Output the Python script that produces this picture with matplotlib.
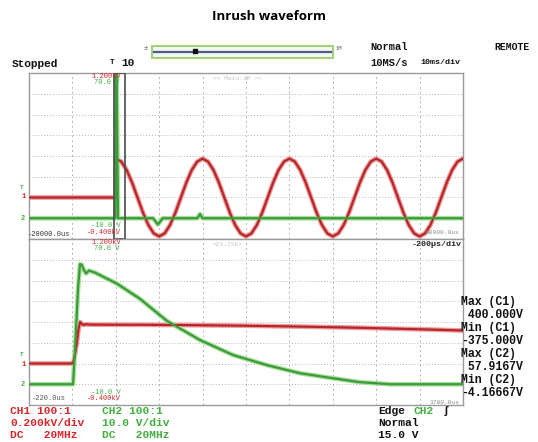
import numpy as np
import matplotlib
matplotlib.use("Agg")
import matplotlib.pyplot as plt
from matplotlib.patches import Rectangle
from matplotlib.lines import Line2D

W, H = 538, 442

# --- upper window: 10 ms/div, -20 ms .. 80 ms ---
# CH1 (mains voltage, V) read every 1.25 ms after switch-on
ch1_main_t_pre = [-20.0, -0.05]
ch1_main_v_pre = [0, 0]
ch1_main_v = [375, 346, 265, 144, 0, -144, -265, -346, -375, -346, -265, -144, 0, 144, 265, 346,
              375, 346, 265, 144, 0, -144, -265, -346, -375, -346, -265, -144, 0, 144, 265, 346,
              375, 346, 265, 144, 0, -144, -265, -346, -375, -346, -265, -144, 0, 144, 265, 346,
              375, 346, 265, 144, 0, -144, -265, -346, -375, -346, -265, -144, 0, 144, 265, 346,
              375]
ch1_main_step = 1.25
# CH2 (inrush, V)
ch2_main_t = [-20.0, -0.1, 0.0, 0.2, 0.5, 8.6, 9.7, 10.8, 18.8, 19.4, 20.0, 80.0]
ch2_main_v = [0, 0, 70, 70, 0, 0, -3, 0, 0, 2, 0, 0]

# --- zoom window: 200 us/div, -220 us .. 1780 us ---
ch1_zoom_t = [-220, -18, -10, 0, 8, 15, 22, 30, 45, 60, 150, 300, 450, 600, 750, 900,
              1050, 1200, 1350, 1500, 1650, 1780]
ch1_zoom_v = [0, 0, 60, 190, 330, 400, 385, 372, 378, 375, 374, 373, 371, 368, 365, 360,
              355, 349, 342, 334, 326, 318]
ch2_zoom_t = [-220, -17, -8, 6, 15, 24, 33, 43, 56, 84, 185, 291, 416, 568, 720, 877,
              1029, 1181, 1305, 1444, 1780]
ch2_zoom_v = [0, 0, 17, 46, 57.9, 57.5, 55, 53.4, 54.8, 53.8, 48.5, 41.2, 30.5, 21.3, 14.1, 9.2,
              5.3, 2.9, 1.0, 0, 0]

measure_lines = ["Max (C1)", " 400.000V", "Min (C1)", "-375.000V",
                 "Max (C2)", " 57.9167V", "Min (C2)", "-4.16667V"]

RED, RED_H = "#b3262b", "#f29a9a"
GRN, GRN_H = "#3c9a3c", "#a8e09a"
TXT_R, TXT_G = "#d8262a", "#3fae3f"
MONO = "Liberation Mono"


def fx(x):
    return x / W


def fy(y):
    return 1 - y / H


def ftext(x, y, s, **kw):
    kw.setdefault("va", "center")
    kw.setdefault("family", MONO)
    fig.text(fx(x), fy(y), s, **kw)


def scope_axes(top_px):
    ax = fig.add_axes([fx(29), fy(top_px + 166), 434 / W, 166 / H])
    ax.set_xlim(0, 10)
    ax.set_ylim(0, 8)
    ax.set_xticks([])
    ax.set_yticks([])
    for sp in ax.spines.values():
        sp.set_color("#9a9a9a")
        sp.set_linewidth(1.0)
    for i in range(1, 10):
        ax.axvline(i, color="#b5b5b5", lw=0.7, ls=(0, (2, 3)), zorder=0)
    for j in range(1, 8):
        ax.axhline(j, color="#b5b5b5", lw=0.7, ls=(0, (1, 2)), zorder=0)
    return ax


def trace(ax, x, y, c, halo):
    ax.plot(x, y, color=halo, lw=3.4, solid_capstyle="round", zorder=2)
    ax.plot(x, y, color=c, lw=1.6, zorder=3)


fig = plt.figure(figsize=(W / 100, H / 100), dpi=100)

fig.text(0.5, fy(16), "Inrush waveform", ha="center", va="center",
         fontsize=9.5, fontweight="bold", family="Open Sans")

# upper window
ax1 = scope_axes(73)
t1 = list(ch1_main_t_pre) + [k * ch1_main_step for k in range(len(ch1_main_v))]
v1 = list(ch1_main_v_pre) + list(ch1_main_v)
x1 = [(t + 20) / 10 for t in t1]
trace(ax1, x1, [2 + v / 200 for v in v1], RED, RED_H)
x2 = [(t + 20) / 10 for t in ch2_main_t]
trace(ax1, x2, [1 + v / 10 for v in ch2_main_v], GRN, GRN_H)
ax1.add_patch(Rectangle((1.96, 0.02), 0.25, 7.96, fill=False, ec="#4d4d4d", lw=1.2, zorder=4))

# zoom window
ax2 = scope_axes(239)
xz1 = [(t + 220) / 200 for t in ch1_zoom_t]
trace(ax2, xz1, [2 + v / 200 for v in ch1_zoom_v], RED, RED_H)
xz2 = [(t + 220) / 200 for t in ch2_zoom_t]
trace(ax2, xz2, [1 + v / 10 for v in ch2_zoom_v], GRN, GRN_H)

# scale labels inside the windows
for top in (73, 239):
    ftext(121, top + 3, "1.200kV", color=TXT_R, fontsize=5, ha="right")
    ftext(119, top + 9, "70.0 V", color=TXT_G, fontsize=5, ha="right")
    ftext(121, top + 153, "-10.0 V", color=TXT_G, fontsize=5, ha="right")
    ftext(121, top + 159, "-0.400kV", color=TXT_R, fontsize=5, ha="right")

ftext(213, 78, "<< Main:1M >>", color="#c4c4c4", fontsize=4.5)
ftext(213, 245, "<Z1:25k>", color="#c4c4c4", fontsize=4.5)
ftext(28, 235, "-20000.0us", color="#333333", fontsize=5)
ftext(459, 233, "80000.0us", color="#8a8a8a", fontsize=4.5, ha="right")
ftext(462, 244, "-200\u03bcs/div", color="#222222", fontsize=6, ha="right", fontweight="bold")
ftext(32, 399, "-220.0us", color="#555555", fontsize=5)
ftext(459, 402, "1780.0us", color="#8a8a8a", fontsize=4.5, ha="right")

# channel / trigger markers at left
for zr, zg, trg in ((197, 219, 187), (365, 385, 354)):
    ftext(21, zr, "1", color=TXT_R, fontsize=5, fontweight="bold")
    ftext(21, zg, "2", color=TXT_G, fontsize=5, fontweight="bold")
    ftext(20, trg, "T", color=TXT_G, fontsize=4.5, fontweight="bold")

# status bar
ftext(12, 64, "Stopped", color="#111111", fontsize=8, fontweight="bold")
ftext(110, 63, "T", color="#111111", fontsize=5.5, fontweight="bold")
ftext(121, 63, "10", color="#111111", fontsize=8, fontweight="bold")
fig.patches.append(Rectangle((fx(152), fy(58)), 181 / W, 12 / H, transform=fig.transFigure,
                             fill=True, fc="#f3f8ee", ec="#a6d07c", lw=1.5))
fig.lines.append(Line2D([fx(154), fx(331)], [fy(52), fy(52)], transform=fig.transFigure,
                        color="#4d5b88", lw=1.6))
fig.lines.append(Line2D([fx(195)], [fy(51)], transform=fig.transFigure, marker="s",
                        ms=2.5, color="#111111"))
ftext(144, 49, "\u00b1", color="#555555", fontsize=5)
ftext(336, 49, "1M", color="#555555", fontsize=4)
ftext(370, 47, "Normal", color="#111111", fontsize=7.5, fontweight="bold")
ftext(370, 63, "10MS/s", color="#111111", fontsize=7.5, fontweight="bold")
ftext(420, 63, "10ms/div", color="#111111", fontsize=6, fontweight="bold")
ftext(494, 47, "REMOTE", color="#111111", fontsize=7, fontweight="bold")

# measurements
for i, s in enumerate(measure_lines):
    ftext(461, 302 + i * 13, s, color="#111111", fontsize=8.3, fontweight="bold")

# channel settings
rows = [411, 423.5, 435]
fs = 8.1
ftext(10, rows[0], "CH1 100:1", color=TXT_R, fontsize=fs, fontweight="bold")
ftext(10, rows[1], "0.200kV/div", color=TXT_R, fontsize=fs, fontweight="bold")
ftext(10, rows[2], "DC   20MHz", color=TXT_R, fontsize=fs, fontweight="bold")
ftext(102, rows[0], "CH2 100:1", color=TXT_G, fontsize=fs, fontweight="bold")
ftext(102, rows[1], "10.0 V/div", color=TXT_G, fontsize=fs, fontweight="bold")
ftext(102, rows[2], "DC   20MHz", color=TXT_G, fontsize=fs, fontweight="bold")
ftext(378, rows[0], "Edge", color="#111111", fontsize=fs, fontweight="bold")
ftext(413, rows[0], "CH2", color=TXT_G, fontsize=fs, fontweight="bold")
ftext(443, rows[0], "\u0283", color="#111111", fontsize=fs, fontweight="bold")
ftext(378, rows[1], "Normal", color="#111111", fontsize=fs, fontweight="bold")
ftext(378, rows[2], "15.0 V", color="#111111", fontsize=fs, fontweight="bold")

fig.savefig("out.png", dpi=100)
